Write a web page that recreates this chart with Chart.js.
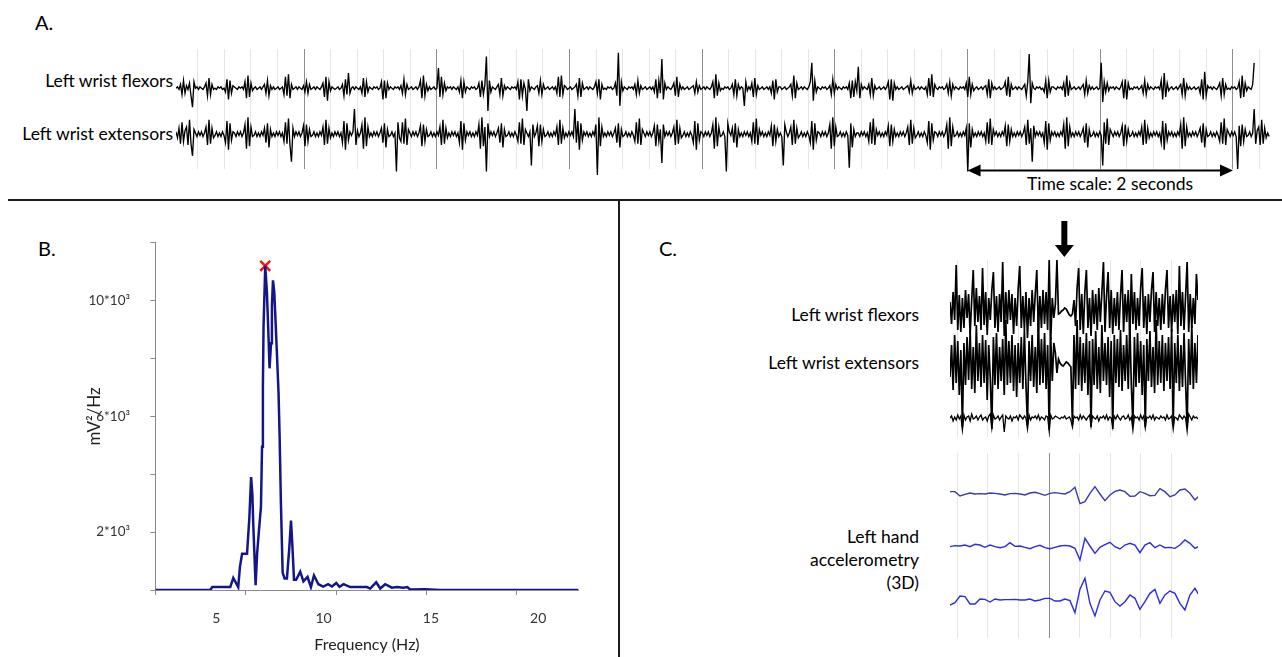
<!DOCTYPE html>
<html>
<head>
<meta charset="utf-8">
<script src="https://cdn.jsdelivr.net/npm/chart.js@4.4.1/dist/chart.umd.min.js"></script>
<style>
  body { margin: 0; background: #fff; font-family: Lato, "Open Sans", sans-serif; color: #000; }
  #page { position: relative; width: 1282px; height: 657px; overflow: hidden; background: #fff; }
  .lbl { position: absolute; font-size: 17.5px; line-height: 20px; white-space: nowrap; }
  .panel { font-size: 20px; line-height: 24px; }
  .sep { position: absolute; background: #1c1c1c; }
  canvas { position: absolute; }
</style>
</head>
<body>
<div id="page">
  <div class="lbl panel" style="left:35px;top:10px">A.</div>
  <div class="lbl panel" style="left:38px;top:236px">B.</div>
  <div class="lbl panel" style="left:659px;top:236px">C.</div>

  <div class="lbl" style="right:1109px;top:71px">Left wrist flexors</div>
  <div class="lbl" style="right:1109px;top:124px">Left wrist extensors</div>
  <div class="lbl" style="left:1110px;top:174px;transform:translateX(-50%)">Time scale: 2 seconds</div>

  <div class="lbl" style="right:363px;top:305px">Left wrist flexors</div>
  <div class="lbl" style="right:363px;top:353px">Left wrist extensors</div>
  <div class="lbl" style="right:363px;top:527px">Left hand</div>
  <div class="lbl" style="right:363px;top:550px">accelerometry</div>
  <div class="lbl" style="right:363px;top:573px">(3D)</div>

  <div class="sep" style="left:8px;top:199px;width:1274px;height:2px"></div>
  <div class="sep" style="left:618px;top:200px;width:2px;height:457px"></div>

  <canvas id="emgA" width="1096" height="146" style="left:176px;top:49px"></canvas>
  <canvas id="spectrum" width="510" height="425" style="left:81px;top:232px"></canvas>
  <canvas id="emgC" width="248" height="222" style="left:950px;top:215px"></canvas>
  <canvas id="accC" width="248" height="185" style="left:950px;top:453px"></canvas>
</div>

<script>
// ---------- PANEL B: POWER SPECTRUM ----------
const specFreqHz = [2.16, 3.8, 4.72, 4.81, 5.65, 5.79, 6.02, 6.1, 6.2, 6.43, 6.54, 6.62, 6.68, 6.72, 6.83, 6.9, 6.98,
  7.08, 7.13, 7.17, 7.2, 7.28, 7.36, 7.42, 7.48, 7.55, 7.59, 7.64, 7.7, 7.76, 7.83, 7.9, 7.95, 8.01, 8.09, 8.18,
  8.29, 8.4, 8.48, 8.54, 8.62, 8.72, 8.91, 9.06, 9.25, 9.41, 9.55, 9.76, 9.98, 10.21, 10.39, 10.59, 10.74, 10.93,
  11.24, 12.02, 12.17, 12.45, 12.64, 12.87, 13.18, 13.41, 13.72, 13.9, 14.03, 14.73, 15.43, 21.88];
const specPower = [0, 0, 0, 100, 100, 420, 100, 800, 1250, 1250, 2500, 3900, 3300, 2300, 170, 1250, 2000,
  2880, 4950, 7020, 9100, 11200, 10250, 9000, 7660, 8530, 9800, 10700, 10300, 9300, 8060, 6800, 5300, 3000, 600, 400,
  400, 1450, 2400, 1600, 350, 350, 630, 300, 450, 100, 500, 200, 120, 200, 120, 240, 110, 200,
  100, 100, 50, 265, 50, 200, 80, 100, 80, 100, 20, 30, 0, 0];
const peakFreqHz = [7.28];
const peakPower = [11200];
const freqTickMarks = [2.16, 6.37, 10.58, 14.79, 19.0];
const freqTickLabels = [5, 10, 15, 20];
const powerTickLabels = [2000, 6000, 10000];

// ---------- PANEL A: EMG (arbitrary units, one row = one tremor burst) ----------
const flexorsA = [
  0, 1, -1, 3, -5, 6, -4, 2, -1, 4, -6, -15, 5,
  0, 1, -1, 1, 0, -1, 1, 4, -6, 8, -5, 3, -1,
  0, -1, 1, 0, 1, -1, 0, -3, 7, -9, 6, -4, 2,
  1, 0, -1, 1, 0, 1, -1, 5, -8, 10, -7, 4, -2,
  0, 1, -1, 0, 1, -1, 1, 3, -4, 6, -6, 2, -1,
  1, -1, 0, 1, -1, 0, 1, -5, 9, -6, 11, -8, 3,
  -1, 0, 1, -1, 1, 0, -1, 2, -3, 5, -4, 3, -1,
  0, 1, -1, 1, 0, -1, 1, 4, -7, 9, -10, 5, -2,
  1, 0, -1, 0, 1, -1, 0, 3, -6, 7, -5, 12, -4,
  0, 1, -1, 1, 0, -1, 1, -4, 8, -7, 5, -3, 1,
  0, -1, 1, 0, 1, -1, 0, 5, -9, 6, -8, 4, -1,
  1, 0, -1, 1, 0, 1, -1, 2, -4, 7, -5, 3, -1,
  0, 1, -1, 0, 1, -1, 1, 6, -8, 10, -6, 3, -2,
  1, -1, 0, 1, -1, 0, 16, -7, 9, -5, 4, -2, 1,
  0, 1, -1, 1, 0, -1, 1, -3, 6, -8, 5, -3, 1,
  0, -1, 1, 0, 1, -1, 0, 4, -7, 6, -5, 3, 25,
  -18, 6, -3, 1, 0, -1, 1, 3, -5, 8, -6, 2, -1,
  1, 0, -1, 1, 0, 1, -1, 5, -9, 7, -6, 4, -1,
  -18, 7, -2, 1, 0, -1, 1, 2, -4, 6, -5, 3, -1,
  0, 1, -1, 0, 1, -1, 1, -4, 9, -7, 10, -5, 2,
  1, -1, 0, 1, -1, 0, 1, 3, -6, 8, -7, 4, -1,
  0, 1, -1, 1, 0, -1, 1, 5, -4, 7, -9, 3, -1,
  0, -1, 1, 0, 1, -1, 0, 4, -6, 28, -14, 5, -2,
  1, 0, -1, 1, 0, 1, -1, 3, -5, 6, -4, 2, -1,
  0, 1, -1, 0, 1, -1, 1, -3, 7, -8, 6, -4, 23,
  -9, 4, -1, 1, 0, -1, 1, 4, -6, 9, -7, 3, -1,
  1, -1, 0, 1, -1, 0, 1, 2, -4, 5, -3, 2, -1,
  0, 1, -1, 1, 0, -1, 1, 5, -8, 11, -6, 4, -2,
  0, -1, 1, 0, 1, -1, 0, 3, -5, 7, -6, 3, -1,
  1, 0, -14, 5, -2, 1, -1, 4, -7, 8, -5, 2, -1,
  0, 1, -1, 0, 1, -1, 1, -4, 6, -9, 7, -3, 1,
  1, -1, 0, 1, -1, 0, 1, 3, -6, 10, -8, 4, -1,
  0, 1, -1, 1, 0, -1, 1, 5, 20, -10, 6, -3, 1,
  0, -1, 1, 0, 1, -1, 0, 2, -5, 7, -4, 3, -1,
  1, 0, -1, 1, 0, 1, -1, 4, -8, 6, -7, 5, -2,
  17, -8, 3, -1, 1, 0, -1, 3, -5, 8, -6, 2, -1,
  0, 1, -1, 0, 1, -1, 1, 5, -9, 7, -10, 4, -1,
  1, -1, 0, 1, -1, 0, 1, 2, -3, 6, -4, 2, -1,
  0, 1, -1, 1, 0, -1, 1, -5, 8, -6, 11, -7, 3,
  0, -1, 1, 0, 1, -1, 0, 3, -4, 5, -6, 3, -1,
  1, 0, -1, 1, 0, 1, -1, 4, -7, 9, -5, 3, -2,
  0, 1, -1, 0, 1, -1, 1, 2, -5, 7, -8, 4, -1,
  1, -1, 0, 1, -1, 0, 1, 5, -6, 9, -7, 3, -1,
  0, 1, -1, 1, 0, -1, 1, 3, -6, 5, 27, -12, 4,
  0, -1, 1, 0, 1, -1, 0, -3, 6, -8, 6, -3, 1,
  1, 0, -1, 1, 0, 1, -1, 4, -7, 10, -6, 4, -1,
  0, 1, -1, 0, 1, -1, 1, 3, -5, 6, -4, 2, -1,
  1, -1, 0, 1, -1, 0, 20, -11, 5, -3, 4, -2, 1,
  0, 1, -1, 1, 0, -1, 1, 5, -8, 7, -9, 4, -1,
  0, -1, 1, 0, 1, -1, 0, 2, -4, 6, -5, 3, -1,
  1, 0, -1, 1, 0, 1, -1, 6, -9, 12, -7, 4, -2,
  0, 1, -1, 0, 1, -1, 1, 3, -5, 8, -6, 3, -1,
  1, -1, 0, 1, -1, 0, 1, -4, 7, -9, 13, -6, 2,
  0, 1, -1, 1, 0, -1, 1, 4, -6, 8, -5, 3, -1,
  0, -1, 1, 0, 1, -1, 0, 5, -8, 10, -7, 4, -2,
  1, 0, -1, 3, 20
];
const extensorsA = [
  2, -3, 5, -8, 10, -6, 3, 6, -9, 12, -8, -18, 4,
  1, -2, 2, -1, 2, -2, 1, 6, -9, 12, -8, 5, -3,
  -1, 2, -2, 1, -2, 2, -1, -7, 11, -13, 9, -5, 2,
  1, -2, 2, -1, 2, -2, 1, 8, -12, 14, -10, 6, -2,
  -1, 2, -2, 1, -2, 2, -1, 5, -7, 9, -11, 4, -2,
  1, -2, 2, -1, 2, -2, 1, -6, 10, -8, 13, -9, -23,
  5, -2, 2, -1, 2, -2, 1, 7, -10, 8, -6, 4, -2,
  -1, 2, -2, 1, -2, 2, -1, 6, -9, 12, -8, 5, -3,
  1, -2, 2, -1, 2, -2, 1, -7, 11, -13, 9, -5, 2,
  -1, 2, 21, -9, 3, -2, 1, 8, -12, 14, -10, 6, -2,
  1, -2, 2, -1, 2, -2, 1, 5, -7, 9, -11, 4, -2,
  -1, 2, -2, 1, -31, 10, -3, -6, 10, -8, 13, -9, 4,
  1, -2, 2, -1, 2, -2, 1, 7, -10, 8, -6, 4, -2,
  -1, 2, -2, 1, -2, 2, -1, 6, -9, 12, -8, 5, -3,
  1, -2, 2, -1, 2, -2, 1, -7, 11, -13, 9, -5, 2,
  -1, 2, -2, 1, -2, 2, -1, 8, -12, 14, -10, 6, -31,
  9, -2, 2, -1, 2, -2, 1, 5, -7, 9, -11, 4, -2,
  -1, 2, -2, 1, -2, 2, -1, -6, 10, -8, 13, -9, 4,
  1, -2, 2, -26, 8, -2, 1, 7, -10, 8, -6, 4, -2,
  -1, 2, -2, 1, -2, 2, -1, 6, -9, 12, -8, 5, -3,
  1, -2, 2, -1, 2, -2, 21, -7, 11, -13, 9, -5, 2,
  -1, 2, -2, 1, -2, 2, -1, 8, -34, 14, -10, 6, -2,
  1, -2, 2, -1, 2, -2, 1, 5, -7, 9, -11, 4, -2,
  -1, 2, -2, 1, -2, 2, -1, -6, 10, -8, 13, -9, 4,
  1, -2, 2, -1, 2, -2, 1, 7, -10, 8, -6, 4, -24,
  8, -2, 2, -1, 2, -2, 1, 6, -9, 12, -8, 5, -3,
  -1, 2, -2, 1, -2, 2, -1, -7, 11, -13, 9, -5, 2,
  1, -2, 2, -1, 2, -2, 1, 8, -12, 14, -10, 6, -2,
  -1, 2, -2, -31, 9, 2, -1, 5, -7, 9, -11, 4, -2,
  1, -2, 2, -1, 2, -2, 1, -6, 10, -8, 13, -9, 4,
  -1, 2, -2, 1, -2, 2, -1, 7, -10, 8, -6, 4, -2,
  1, -2, -26, 8, 2, -2, 1, 6, -9, 12, -8, 5, -3,
  -1, 2, -2, 1, -2, 2, -1, -7, 11, -13, 9, -5, 2,
  1, -2, 2, -1, 2, -2, 1, 8, -12, 14, -10, 6, -2,
  -1, 2, -2, 1, -2, 2, -1, -28, 9, -11, 4, -2, 1,
  1, -2, 2, -1, 2, -2, 1, -6, 10, -8, 13, -9, 4,
  -1, 2, -2, 1, -2, 2, -1, 7, -10, 8, -6, 4, -2,
  1, -2, 2, -1, 2, -2, 1, 6, -9, 12, -8, 5, -3,
  -1, 2, -2, 1, -2, 2, -1, -7, 11, -13, 9, -5, 2,
  1, -2, 2, -1, 2, -2, 1, 8, -12, 14, -10, 6, -2,
  -1, 2, -2, 1, -2, 2, -1, 5, -31, 9, -11, 4, -2,
  1, -2, 2, -1, 2, -2, 1, -6, 10, -8, 13, -9, 4,
  -1, 2, -2, 1, -2, 2, -1, 7, -10, 8, -6, 4, -2,
  1, -2, 2, -1, 2, -2, 1, 6, -9, 12, -8, 5, -23,
  7, -2, 2, -1, 2, -2, 1, -7, 11, -13, 9, -5, 2,
  -1, 2, -2, 1, -2, 2, -1, 8, -12, 14, -10, 6, -2,
  1, -2, 2, -1, 2, -2, 1, 5, -7, 9, -11, 4, -2,
  -1, 2, -2, 1, -2, 2, -1, -26, 10, -8, 13, -9, 4,
  1, -2, 2, -1, 2, -2, 1, 7, -10, 8, -6, 4, -2,
  -1, 2, -2, 1, -2, 2, -1, 6, -9, 12, -8, 5, -3,
  1, -2, 2, -1, 2, -2, 1, -7, 11, -13, 9, -5, 2,
  -1, 2, -2, 1, -2, 2, -1, 8, -12, 14, -10, 6, -2,
  1, -2, 2, -1, 2, -2, 1, 5, -7, 9, -11, 4, -2,
  -1, 2, -2, 1, -2, 2, -1, -6, 10, -8, 13, -9, 4,
  1, -2, 2, -1, 2, -2, -29, 7, -10, 8, -6, 4, -2,
  -1, 2, -2, 1, 21, -8, 3, 6, -9, 12, -8, 5, -3,
  1, -2
];

// ---------- PANEL C: EMG close-up ----------
const flexorsC = [
  8, -14, 18, -10, 45, -20, 15, -22, 12, -18, 20, -8, 16, -24, 10, 40, -16, 22, -12, 14,
  -20, 42, -15, 18, -25, 12, -10, 20, 38, -18, 14, -22, 16, -12, 48, -26, 18, -14, 20, -10,
  16, -24, 12, -16, 22, 44, -18, 14, -20, 18, -28, 12, -16, 20, -12, 16, 40, -22, 14, -18,
  20, -14, 18, -20, 50, -30, 12, -8, 6, 50, -4, -3, -1, 0, 2, 1, -2, -5, -6, -4,
  10, -16, 22, 42, -20, 16, -24, 18, 40, -18, 12, -26, 20, -14, 16, -20, 22, -12, 18, 48,
  -22, 14, 38, -18, 20, -24, 12, -16, 18, -20, 14, 40, -22, 16, -12, 20, -26, 36, -14, 18,
  -20, 12, -16, 22, 42, -18, 14, -24, 16, -12, 20, 38, -22, 18, -16, 12, -20, 16, -14, 20,
  40, -18, 14, -22, 16, -12, 20, -24, 44, -16, 18, -20, 14, 48, -22, 16, -18, 12, -14, 36,
  10
];
const extensorsC = [
  -12, 20, -25, 30, -18, 24, -30, 15, -62, 22, -20, 28, -15, 35, -24, 18, -28, 40, -16, 22,
  -22, 30, -18, 25, -35, 20, -14, -64, 28, -20, 32, -24, 18, -16, 26, -30, 45, -20, 24, -18,
  30, -26, 20, -32, 22, -18, 28, -24, 35, -20, -60, 24, -16, 30, -22, 18, -28, 50, -20, 26,
  -18, 32, -24, 20, -65, 28, -16, 22, 12, -8, 6, 2, 0, -1, 1, 3, 2, 0, -2, -60,
  30, -24, 45, -20, 28, -26, 22, -18, 32, -30, 24, -62, 26, -20, 34, -24, 18, -28, 40, -16,
  22, -20, 28, -32, 24, -64, 30, -18, 26, -22, 35, -26, 20, -16, 30, -24, 42, -20, -60, 28,
  -22, 32, -18, 24, -30, 20, -62, 26, -16, 34, -22, 18, -28, 45, -20, 24, -18, 30, -26, 22,
  -16, 28, -24, 36, -60, 22, -18, 30, -26, 20, -22, 32, -18, -62, 26, -20, 40, -24, 22, -18,
  30
];
const thirdC = [
  0, 2, -3, 1, -2, 3, -1, 2, -12, 3, -2, 1, 2, -3, 4, -1, 0, 2, -2, 1,
  3, -2, 0, 1, -3, 2, 4, -10, 3, -1, 0, 2, -2, 1, 3, -14, 2, 0, -1, 2,
  -3, 1, 0, 2, -2, 3, 1, -1, 2, 0, -11, 3, -2, 1, 0, 2, -1, 3, -2, 1,
  0, -2, 2, 1, -13, 3, -1, 0, 2, 1, 0, -1, 1, 0, 2, -1, 0, 1, -2, -9,
  2, 0, 1, -2, 3, -1, 2, 0, -2, 1, 3, -8, 2, 0, -1, 2, -3, 1, 0, 2,
  -1, 3, -2, 1, 0, -9, 2, -1, 3, 0, -2, 1, 2, -1, 0, 3, -2, 1, -12, 2,
  0, 1, -2, 3, -1, 2, -10, 1, 0, 2, -1, 3, -2, 1, 0, -1, 2, 0, 1, -2,
  3, -1, 0, 2, -11, 1, 0, -2, 3, 1, -1, 2, 0, -13, 4, 1, -2, 2, 0, 1,
  -1
];
const accelX = [0, 0, -13, -8, -4, -7, -6, -7, -4, -5, -7, -10, -6, -5, -7, -10, -4, -2, -6, -11,
  -5, -3, -5, -7, 0, 13, -36, -30, -5, 15, -7, -27, -10, 1, 5, 0, -14, -13, 0, -5,
  -12, -11, 9, 0, -15, -10, 5, 8, -5, -25, -10];
const accelY = [0, 3, 2, 5, 0, 7, 5, -2, 5, 0, -3, 0, 12, 1, 2, -2, -6, 0, 4, -3,
  -6, -2, 2, 4, 2, -5, -40, 25, 2, -20, -2, 6, 13, 0, -7, 5, 10, 5, -18, 5,
  12, -3, 5, -3, -2, -5, 5, 20, 10, -5, 2];
const accelZ = [-5, 2, 22, 20, -2, -2, 13, 12, 4, 13, 10, 11, 11, 12, 10, 10, 13, 7, 10, 15,
  15, 7, 7, 13, 8, -28, 42, 75, 0, -38, 10, 37, 33, 5, -8, 5, 25, 15, -18, 5,
  30, 42, 0, 25, 37, 30, 0, -20, 25, 45, 20];

// sampling (seconds)
const tA0 = 0.035, dtA = 0.0113;
const tC0 = -0.048, dtC = 0.01014, dtAcc = 0.0327;
const scaleBarSec = [6, 8];
const markerSec = 0.7;

function series(arr, t0, dt) {
  return arr.map((v, i) => ({ x: t0 + i * dt, y: v }));
}

function trace(arr, t0, dt, axis, color, width) {
  return {
    data: series(arr, t0, dt), yAxisID: axis, borderColor: color, borderWidth: width,
    pointRadius: 0, tension: 0, clip: false
  };
}

function timeAxis(min, max, isDark) {
  return {
    type: "linear", min: min, max: max,
    border: { display: false },
    ticks: { display: false, stepSize: 0.2, maxTicksLimit: 200, includeBounds: false, autoSkip: false },
    grid: {
      drawTicks: false, lineWidth: 1,
      color: (c) => (isDark(c.tick.value) ? "#8e8e8e" : "#e6e6e6")
    }
  };
}

function hidden(min, max) {
  return { display: false, min: min, max: max };
}

const baseOptions = {
  responsive: false, animation: false, events: [],
  plugins: { legend: { display: false }, tooltip: { enabled: false } }
};

// ---------- PANEL A ----------
const scaleBarPlugin = {
  id: "scaleBar",
  afterDraw(chart) {
    const { ctx, chartArea, scales } = chart;
    const x0 = scales.x.getPixelForValue(scaleBarSec[0]);
    const x1 = scales.x.getPixelForValue(scaleBarSec[1]);
    const y = chartArea.bottom + 1.5;
    ctx.save();
    ctx.strokeStyle = "#000";
    ctx.fillStyle = "#000";
    ctx.lineWidth = 2;
    ctx.beginPath();
    ctx.moveTo(x0 + 10, y);
    ctx.lineTo(x1 - 10, y);
    ctx.stroke();
    ctx.beginPath();
    ctx.moveTo(x0, y); ctx.lineTo(x0 + 13, y - 6); ctx.lineTo(x0 + 13, y + 6); ctx.closePath();
    ctx.moveTo(x1, y); ctx.lineTo(x1 - 13, y - 6); ctx.lineTo(x1 - 13, y + 6); ctx.closePath();
    ctx.fill();
    ctx.restore();
  }
};

new Chart(document.getElementById("emgA"), {
  type: "line",
  data: {
    datasets: [
      trace(flexorsA, tA0, dtA, "yF", "#000", 1.35),
      trace(extensorsA, tA0, dtA, "yE", "#000", 1.35)
    ]
  },
  options: {
    ...baseOptions,
    layout: { autoPadding: false, padding: { top: 0, bottom: 26, left: 0, right: 0 } },
    scales: {
      x: timeAxis(0.035, 8.294, (v) => Math.abs(v - Math.round(v)) < 1e-6),
      yF: hidden(-64, 31),
      yE: hidden(-29, 71)
    }
  },
  plugins: [scaleBarPlugin]
});

// ---------- PANEL B ----------
new Chart(document.getElementById("spectrum"), {
  type: "line",
  data: {
    datasets: [
      {
        data: specFreqHz.map((f, i) => ({ x: f, y: specPower[i] })),
        borderColor: "#15158a", borderWidth: 2.5, pointRadius: 0, tension: 0
      },
      {
        data: peakFreqHz.map((f, i) => ({ x: f, y: peakPower[i] })),
        showLine: false, pointStyle: "crossRot", pointRadius: 7,
        borderColor: "#ff1010", borderWidth: 2.5, clip: false
      }
    ]
  },
  options: {
    ...baseOptions,
    layout: { autoPadding: false, padding: { top: 10.7, right: 12.5, left: 0, bottom: 0 } },
    scales: {
      x: {
        type: "linear", min: 2.16, max: 21.88,
        afterBuildTicks: (s) => {
          s.ticks = freqTickMarks.concat(freqTickLabels).sort((a, b) => a - b).map((v) => ({ value: v }));
        },
        afterFit: (s) => { s.height = 67; s.paddingLeft = 0; s.paddingRight = 0; },
        border: { color: "#8a8a8a", width: 1 },
        grid: {
          drawOnChartArea: false, tickLength: 5,
          tickColor: (c) => (freqTickLabels.includes(c.tick.value) ? "rgba(0,0,0,0)" : "#8a8a8a")
        },
        ticks: {
          autoSkip: false, maxRotation: 0, padding: 15.5, color: "#333",
          font: { family: "Lato", size: 14 },
          callback: (v) => (freqTickLabels.includes(v) ? String(v) : "")
        },
        title: {
          display: true, text: "Frequency (Hz)", color: "#222",
          font: { family: "Lato", size: 16 }, padding: { top: 0, bottom: 3 }
        }
      },
      y: {
        type: "linear", min: 0, max: 12000,
        afterFit: (s) => { s.width = 74.4; s.paddingTop = 0; s.paddingBottom = 0; },
        border: { color: "#8a8a8a", width: 1 },
        grid: { drawOnChartArea: false, tickLength: 5, tickColor: "#8a8a8a" },
        ticks: {
          stepSize: 2000, padding: 20.4, color: "#333",
          font: { family: "Lato", size: 13.5 },
          callback: (v) => (powerTickLabels.includes(v) ? (v / 1000) + "*10\u00B3" : "")
        },
        title: {
          display: true, text: "mV\u00B2/Hz", color: "#222",
          font: { family: "Lato", size: 17 }, padding: { top: 3, bottom: 0 }
        }
      }
    }
  }
});

// ---------- PANEL C ----------
const markerPlugin = {
  id: "marker",
  afterDraw(chart) {
    const { ctx, scales } = chart;
    const x = scales.x.getPixelForValue(markerSec);
    ctx.save();
    ctx.fillStyle = "#000";
    ctx.fillRect(x - 3, 6, 6, 26);
    ctx.beginPath();
    ctx.moveTo(x - 9.5, 30);
    ctx.lineTo(x + 9.5, 30);
    ctx.lineTo(x, 42);
    ctx.closePath();
    ctx.fill();
    ctx.restore();
  }
};

const darkAtMarker = (v) => Math.abs(v - 0.6) < 1e-6;

new Chart(document.getElementById("emgC"), {
  type: "line",
  data: {
    datasets: [
      trace(flexorsC, tC0, dtC, "yF", "#000", 1.7),
      trace(extensorsC, tC0, dtC, "yE", "#000", 1.7),
      trace(thirdC, tC0, dtC, "yB", "#000", 1.3)
    ]
  },
  options: {
    ...baseOptions,
    layout: { autoPadding: false, padding: { top: 45, bottom: 0, left: 0, right: 0 } },
    scales: {
      x: timeAxis(-0.048, 1.5745, darkAtMarker),
      yF: hidden(-127, 50),
      yE: hidden(-72, 105),
      yB: hidden(-19, 158)
    }
  },
  plugins: [markerPlugin]
});

new Chart(document.getElementById("accC"), {
  type: "line",
  data: {
    datasets: [
      trace(accelX, tC0, dtAcc, "yX", "#3a3aae", 1.4),
      trace(accelY, tC0, dtAcc, "yY", "#2c2ce0", 1.4),
      trace(accelZ, tC0, dtAcc, "yZ", "#2c2ce6", 1.4)
    ]
  },
  options: {
    ...baseOptions,
    layout: { autoPadding: false, padding: 0 },
    scales: {
      x: timeAxis(-0.048, 1.5745, darkAtMarker),
      yX: hidden(-439, 116),
      yY: hidden(-274, 281),
      yZ: hidden(-104, 451)
    }
  }
});
</script>
</body>
</html>
